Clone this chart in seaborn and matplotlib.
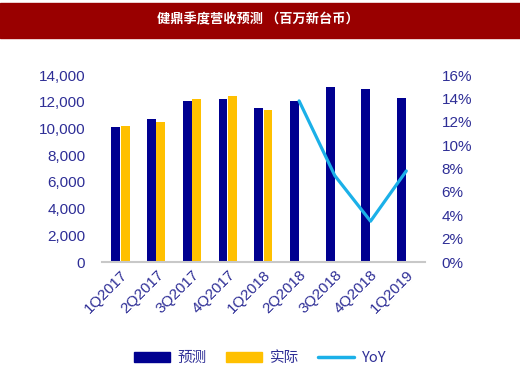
import matplotlib
matplotlib.use("Agg")
import matplotlib.pyplot as plt
import seaborn as sns
import pandas as pd
import numpy as np
from matplotlib.patches import Patch, Rectangle
from matplotlib.lines import Line2D
from matplotlib.ticker import FuncFormatter

C_NAVY = "#000090"
C_GOLD = "#FFC000"
C_LINE = "#1BB0E8"
C_TEXT = "#2E2E96"
C_RED = "#990000"

quarters = ["1Q2017", "2Q2017", "3Q2017", "4Q2017", "1Q2018",
            "2Q2018", "3Q2018", "4Q2018", "1Q2019"]
forecast = [10100, 10700, 12050, 12200, 11550, 12050, 13100, 13000, 12300]
actual_q = ["1Q2017", "2Q2017", "3Q2017", "4Q2017", "1Q2018"]
actual = [10200, 10500, 12200, 12450, 11400]
yoy_q = ["2Q2018", "3Q2018", "4Q2018", "1Q2019"]
yoy = [13.8, 7.4, 3.5, 7.8]

df = pd.concat([
    pd.DataFrame({"季度": quarters, "营收": forecast, "类型": "预测"}),
    pd.DataFrame({"季度": actual_q, "营收": actual, "类型": "实际"}),
])
df_yoy = pd.DataFrame({"x": [quarters.index(q) for q in yoy_q], "yoy": yoy})

sns.set_theme(style="white")
plt.rcParams["font.family"] = ["Liberation Sans", "Noto Sans CJK SC", "DejaVu Sans"]

fig = plt.figure(figsize=(5.2, 3.76), dpi=100)
ax = fig.add_axes([0.196, 0.303, 0.621, 0.497])

sns.barplot(data=df, x="季度", y="营收", hue="类型", order=quarters,
            hue_order=["预测", "实际"], palette=[C_NAVY, C_GOLD], saturation=1,
            width=0.52, gap=0.05, linewidth=0, legend=False, ax=ax)

ax2 = ax.twinx()
sns.lineplot(data=df_yoy, x="x", y="yoy", color=C_LINE, linewidth=2.3, ax=ax2)

ax.set_xlim(-0.52, 8.52)
ax.set_ylim(0, 14000)
ax.set_yticks(np.arange(0, 14001, 2000))
ax.yaxis.set_major_formatter(FuncFormatter(lambda v, p: f"{v:,.0f}"))
ax2.set_ylim(0, 16)
ax2.set_yticks(np.arange(0, 17, 2))
ax2.yaxis.set_major_formatter(FuncFormatter(lambda v, p: f"{v:.0f}%"))

for a in (ax, ax2):
    a.set_xlabel("")
    a.set_ylabel("")
    for s in a.spines.values():
        s.set_visible(False)
    a.tick_params(length=0, colors=C_TEXT, labelsize=11)
ax.spines["bottom"].set_visible(True)
ax.spines["bottom"].set_color("#c8c8c8")
ax.spines["bottom"].set_linewidth(1.5)
ax.tick_params(axis="y", pad=12)
ax2.tick_params(axis="y", pad=12)
ax.tick_params(axis="x", pad=4)
for lbl in ax.get_xticklabels():
    lbl.set_rotation(45)
    lbl.set_ha("right")
    lbl.set_rotation_mode("anchor")

# title banner
fig.patches.append(Rectangle((0, 338 / 376), 1, 35 / 376, transform=fig.transFigure,
                             color=C_RED, zorder=0))
fig.text(0.495, 0.947, "健鼎季度营收预测 （百万新台币）", color="white", fontsize=9.5,
         ha="center", va="center", weight="bold",
         family=["Noto Sans CJK SC", "DejaVu Sans"])

handles = [Patch(color=C_NAVY), Patch(color=C_GOLD), Line2D([], [], color=C_LINE, linewidth=2.5)]
fig.legend(handles, ["预测", "实际", "YoY"], loc="center", bbox_to_anchor=(0.5, 0.048),
           ncol=3, frameon=False, handlelength=2.5, handleheight=0.75,
           columnspacing=1.3, handletextpad=0.5, labelcolor=C_TEXT,
           prop={"family": ["Noto Sans CJK SC", "DejaVu Sans"], "size": 10.5})

fig.savefig("out.png", dpi=100)
plt.close(fig)
